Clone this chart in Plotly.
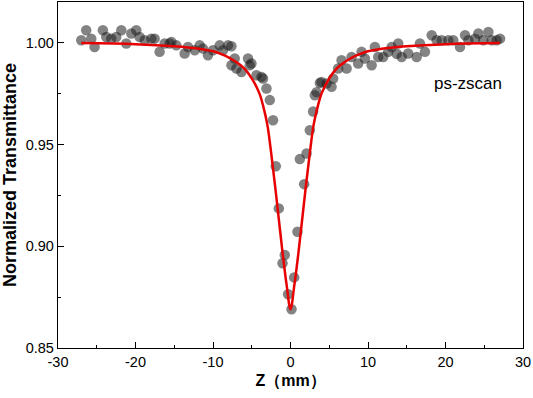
import plotly.graph_objects as go

# Measured data points (Z in mm, normalized transmittance)
z_data = [-27.0, -26.36, -25.71, -25.28, -24.21, -23.77, -23.13, -22.48, -21.83, -21.19,
          -20.54, -19.9, -19.47, -18.82, -17.96, -17.53, -16.89, -16.24, -15.6, -15.37,
          -14.73, -13.66, -13.23, -12.36, -11.72, -11.29, -10.65, -10.0, -9.14, -8.71,
          -8.06, -7.62, -7.62, -7.2, -6.98, -6.33, -5.48, -5.26, -5.04, -4.39,
          -3.75, -3.54, -3.1, -2.67, -2.25, -1.9, -1.51, -1.03, -0.74, -0.31,
          0.13, 0.47, 0.9, 1.2, 1.76, 2.07, 2.49, 2.92, 3.14, 3.36,
          3.79, 4.0, 4.65, 5.3, 5.5, 6.15, 6.59, 7.24, 7.88, 8.73,
          9.17, 9.6, 10.47, 10.89, 11.32, 11.96, 12.61, 13.05, 13.7, 13.9,
          14.34, 15.19, 16.28, 16.7, 17.35, 18.22, 18.86, 19.51, 20.36, 21.0,
          21.87, 22.52, 22.95, 23.81, 24.24, 24.88, 25.53, 25.97, 26.61, 27.04]
t_data = [1.0012, 1.0061, 1.0020, 0.9979, 1.0061, 1.0028, 1.0020, 1.0028, 1.0061, 0.9996,
          1.0045, 1.0061, 1.0028, 1.0012, 1.0020, 1.0020, 0.9955, 0.9996, 0.9996, 1.0004,
          0.9987, 0.9947, 0.9979, 0.9963, 0.9987, 0.9971, 0.9938, 0.9963, 0.9987, 0.9963,
          0.9987, 0.9889, 0.9983, 0.9922, 0.9873, 0.9856, 0.9922, 0.9889, 0.9898, 0.9840,
          0.9832, 0.9824, 0.9775, 0.9718, 0.9619, 0.9393, 0.9186, 0.8916, 0.8957, 0.8764,
          0.8690, 0.8847, 0.9071, 0.9428, 0.9305, 0.9456, 0.9570, 0.9662, 0.9742, 0.9757,
          0.9802, 0.9807, 0.9799, 0.9783, 0.9824, 0.9873, 0.9914, 0.9873, 0.9930, 0.9898,
          0.9955, 0.9922, 0.9889, 0.9979, 0.9930, 0.9930, 0.9955, 0.9979, 0.9946, 0.9996,
          0.9930, 0.9947, 0.9930, 0.9996, 0.9955, 1.0037, 1.0012, 1.0012, 1.0012, 1.0012,
          0.9979, 1.0037, 1.0012, 1.0020, 1.0045, 1.0012, 1.0053, 1.0012, 1.0012, 1.0020]

# Fitted curve
z_fit = [-27, -20, -15, -12, -10, -9, -8, -7, -6, -5, -4, -3.5, -3, -2.5, -2, -1.5, -1, -0.5, 0,
         0.5, 1, 1.5, 2, 2.5, 3, 3.5, 4, 5, 6, 7, 8, 9, 10, 12, 15, 20, 27]
t_fit = [0.9998, 0.9993, 0.9983, 0.9972, 0.9958, 0.9945, 0.9928, 0.9905, 0.9875, 0.9825, 0.9750,
         0.9685, 0.9600, 0.9460, 0.9300, 0.9130, 0.8960, 0.8810, 0.8690,
         0.8810, 0.8960, 0.9130, 0.9300, 0.9460, 0.9600, 0.9685, 0.9750, 0.9825, 0.9875, 0.9905,
         0.9928, 0.9945, 0.9958, 0.9972, 0.9983, 0.9993, 0.9998]

x_ticks = [-30, -20, -10, 0, 10, 20, 30]
y_ticks = [0.85, 0.90, 0.95, 1.00]

FONT = "Liberation Sans, Arial"

fig = go.Figure()
fig.add_trace(go.Scatter(x=z_data, y=t_data, mode="markers",
                         marker=dict(size=10.5, color="rgba(30,30,30,0.55)", line=dict(width=0)),
                         showlegend=False, cliponaxis=False, hoverinfo="skip"))
fig.add_trace(go.Scatter(x=z_fit, y=t_fit, mode="lines",
                         line=dict(color="#e80000", width=2.5, shape="spline", smoothing=1.0),
                         showlegend=False, hoverinfo="skip"))

fig.add_annotation(x=22.9, y=0.980, text="ps-zscan", showarrow=False,
                   font=dict(family=FONT, size=17, color="black"))

axis_common = dict(showline=True, linecolor="black", linewidth=1.3, mirror=True,
                   ticks="inside", ticklen=6, tickwidth=1.3, tickcolor="black",
                   showgrid=False, zeroline=False, automargin=False,
                   tickfont=dict(family=FONT, size=14.5, color="black"))

fig.update_xaxes(range=[-30, 30], tickvals=x_ticks, ticktext=[str(v) for v in x_ticks],
                 minor=dict(dtick=5, ticks="inside", ticklen=3, tickwidth=1.3, tickcolor="black", showgrid=False),
                 title=dict(text="Z（mm）", standoff=6,
                            font=dict(family=FONT, size=16, color="black", weight="bold")),
                 **axis_common)
fig.update_yaxes(range=[0.85, 1.02], tickvals=y_ticks, ticktext=["%.2f" % v for v in y_ticks],
                 minor=dict(dtick=0.025, tick0=0.85, ticks="inside", ticklen=3, tickwidth=1.3, tickcolor="black", showgrid=False),
                 title=dict(text="Normalized Transmittance", standoff=4,
                            font=dict(family=FONT, size=18, color="black", weight="bold")),
                 **axis_common)

fig.update_layout(width=533, height=398, margin=dict(l=58, r=10, t=2, b=50, autoexpand=False),
                  paper_bgcolor="white", plot_bgcolor="white")

fig.write_html("out.html", config={"displayModeBar": False},
               post_script="document.body.style.margin='0';document.body.style.overflow='hidden';")
